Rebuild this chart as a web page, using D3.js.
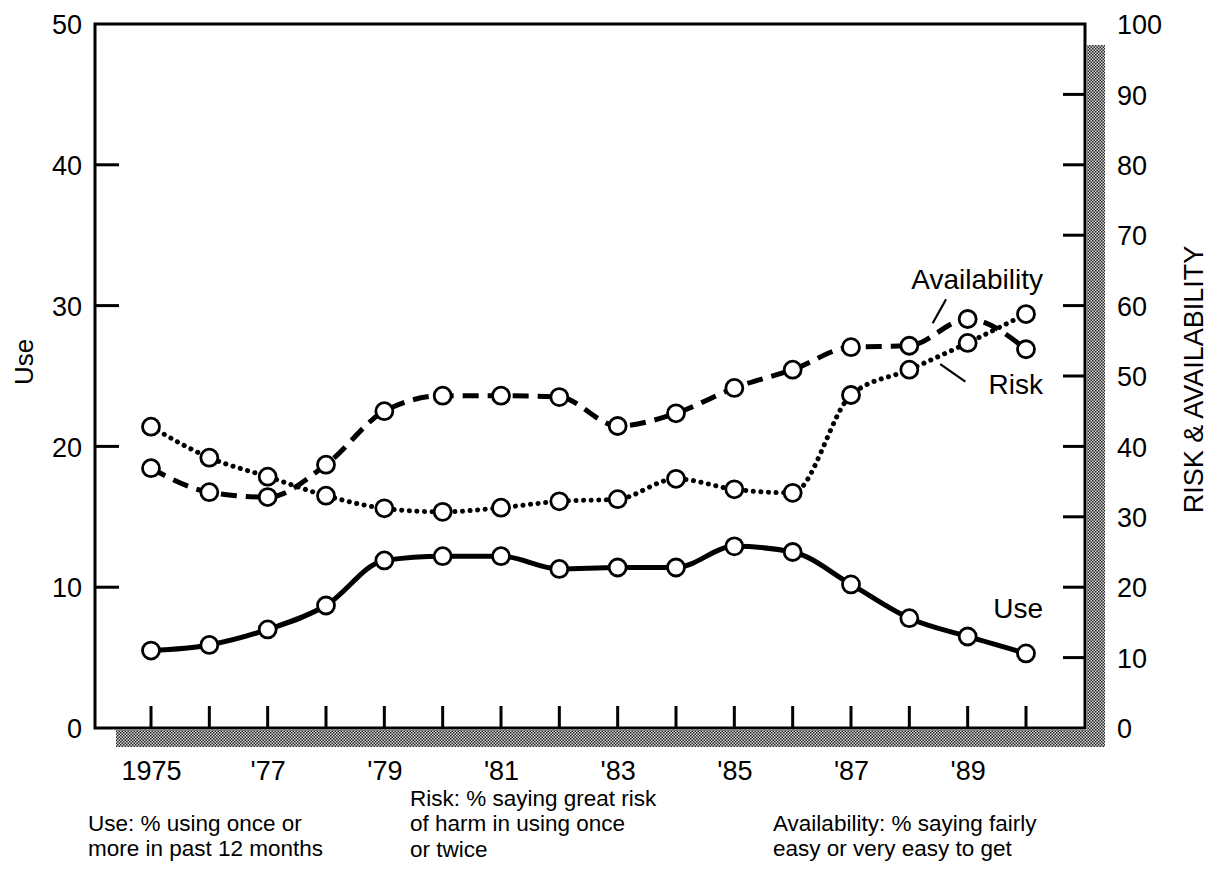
<!DOCTYPE html>
<html>
<head>
<meta charset="utf-8">
<script src="https://cdn.jsdelivr.net/npm/d3@7"></script>
<style>
  html, body { margin: 0; padding: 0; background: #fff; }
  svg { display: block; }
  text { font-family: "Liberation Sans", Arial, Helvetica, sans-serif; fill: #000; }
</style>
</head>
<body>
<svg id="chart" width="1211" height="876"></svg>
<script>
// ---- data ----
const years = [1975,1976,1977,1978,1979,1980,1981,1982,1983,1984,1985,1986,1987,1988,1989,1990];
const useValues = [5.5, 5.9, 7.0, 8.7, 11.9, 12.2, 12.2, 11.3, 11.4, 11.4, 12.9, 12.5, 10.2, 7.8, 6.5, 5.3];
const riskValues = [42.8, 38.4, 35.7, 33.0, 31.2, 30.7, 31.3, 32.2, 32.5, 35.4, 33.9, 33.4, 47.3, 50.9, 54.7, 58.8];
const availabilityValues = [36.9, 33.5, 32.8, 37.4, 45.0, 47.2, 47.2, 47.0, 42.9, 44.7, 48.3, 50.9, 54.1, 54.3, 58.1, 53.8];
const xTickLabels = {1975: "1975", 1977: "'77", 1979: "'79", 1981: "'81", 1983: "'83", 1985: "'85", 1987: "'87", 1989: "'89"};
const leftTicks = [0, 10, 20, 30, 40, 50];
const rightTicks = [0, 10, 20, 30, 40, 50, 60, 70, 80, 90, 100];
const leftTitle = "Use";
const rightTitle = "RISK & AVAILABILITY";
const legendUse = ["Use: % using once or", "more in past 12 months"];
const legendRisk = ["Risk: % saying great risk", "of harm in using once", "or twice"];
const legendAvail = ["Availability: % saying fairly", "easy or very easy to get"];

// ---- layout ----
const svg = d3.select("#chart");
const frame = {left: 95, right: 1085, top: 24, bottom: 728};
const x = d3.scaleLinear().domain([1975, 1990]).range([151, 1026]);
const yL = d3.scaleLinear().domain([0, 50]).range([frame.bottom, frame.top]);
const yR = d3.scaleLinear().domain([0, 100]).range([frame.bottom, frame.top]);
const FONT = "'Liberation Sans', Arial, sans-serif";

// halftone pattern
const defs = svg.append("defs");
const pat = defs.append("pattern").attr("id", "halftone")
  .attr("patternUnits", "userSpaceOnUse").attr("width", 3).attr("height", 3);
pat.append("rect").attr("width", 3).attr("height", 3).attr("fill", "#d8d8d8");
pat.append("rect").attr("x", 0).attr("y", 0).attr("width", 1.5).attr("height", 1.5).attr("fill", "#222");
pat.append("rect").attr("x", 1.5).attr("y", 1.5).attr("width", 1.5).attr("height", 1.5).attr("fill", "#222");

// shaded "shadow" bands
svg.append("rect").attr("x", 116).attr("y", frame.bottom + 2)
  .attr("width", 1105 - 116).attr("height", 17).attr("fill", "url(#halftone)");
svg.append("rect").attr("x", frame.right + 2).attr("y", 45)
  .attr("width", 18).attr("height", frame.bottom + 19 - 45).attr("fill", "url(#halftone)");

// frame
svg.append("rect").attr("x", frame.left).attr("y", frame.top)
  .attr("width", frame.right - frame.left).attr("height", frame.bottom - frame.top)
  .attr("fill", "none").attr("stroke", "#000").attr("stroke-width", 3);

// left axis
const leftAxis = d3.axisLeft(yL).tickValues(leftTicks).tickSize(0).tickPadding(0).tickFormat(d3.format("d"));
const gL = svg.append("g").attr("transform", `translate(${frame.left},0)`).call(leftAxis);
gL.select(".domain").remove();
gL.selectAll("text").attr("x", -13).attr("dy", "0.36em").style("font-size", "27px")
  .style("font-family", FONT).attr("fill", "#000");
svg.append("g").selectAll("line").data(leftTicks.filter(d => d > 0 && d < 50)).join("line")
  .attr("x1", frame.left).attr("x2", frame.left + 24)
  .attr("y1", d => yL(d)).attr("y2", d => yL(d))
  .attr("stroke", "#000").attr("stroke-width", 3);

// right axis
const rightAxis = d3.axisRight(yR).tickValues(rightTicks).tickSize(0).tickPadding(0).tickFormat(d3.format("d"));
const gR = svg.append("g").attr("transform", `translate(${frame.right},0)`).call(rightAxis);
gR.select(".domain").remove();
gR.selectAll("text").attr("x", 32).attr("dy", "0.36em").style("font-size", "27px")
  .style("font-family", FONT).attr("fill", "#000");
svg.append("g").selectAll("line").data(rightTicks.filter(d => d > 0 && d < 100)).join("line")
  .attr("x1", frame.right).attr("x2", frame.right - 22)
  .attr("y1", d => yR(d)).attr("y2", d => yR(d))
  .attr("stroke", "#000").attr("stroke-width", 3);

// bottom axis
const bottomAxis = d3.axisBottom(x).tickValues(years).tickSize(0).tickPadding(0)
  .tickFormat(d => xTickLabels[d] || "");
const gB = svg.append("g").attr("transform", `translate(0,${frame.bottom})`).call(bottomAxis);
gB.select(".domain").remove();
gB.selectAll("text").attr("y", 52).attr("dy", 0).style("font-size", "27px")
  .style("font-family", FONT).attr("fill", "#000");
svg.append("g").selectAll("line").data(years).join("line")
  .attr("x1", d => x(d)).attr("x2", d => x(d))
  .attr("y1", frame.bottom).attr("y2", frame.bottom - 22)
  .attr("stroke", "#000").attr("stroke-width", 3);

// axis titles
svg.append("text").attr("transform", `translate(33,${yL(26)}) rotate(-90)`)
  .attr("text-anchor", "middle").style("font-size", "26px").text(leftTitle);
svg.append("text").attr("transform", `translate(1203,${yR(49.5)}) rotate(-90)`)
  .attr("text-anchor", "middle").style("font-size", "27px").text(rightTitle);

// lines
const curve = d3.curveMonotoneX;
const lineUse = d3.line().x((d, i) => x(years[i])).y(d => yL(d)).curve(curve);
const lineR = d3.line().x((d, i) => x(years[i])).y(d => yR(d)).curve(curve);

svg.append("path").attr("d", lineR(availabilityValues)).attr("fill", "none")
  .attr("stroke", "#000").attr("stroke-width", 5).attr("stroke-dasharray", "16 9");
svg.append("path").attr("d", lineR(riskValues)).attr("fill", "none")
  .attr("stroke", "#000").attr("stroke-width", 5).attr("stroke-linecap", "round")
  .attr("stroke-dasharray", "0.1 7.5");
svg.append("path").attr("d", lineUse(useValues)).attr("fill", "none")
  .attr("stroke", "#000").attr("stroke-width", 5);

// markers
const markerGroups = [
  {vals: availabilityValues, y: yR},
  {vals: riskValues, y: yR},
  {vals: useValues, y: yL}
];
markerGroups.forEach(g => {
  svg.append("g").selectAll("circle").data(g.vals).join("circle")
    .attr("cx", (d, i) => x(years[i])).attr("cy", d => g.y(d))
    .attr("r", 8.5).attr("fill", "#fff").attr("stroke", "#000").attr("stroke-width", 2.8);
});

// series labels with leaders (anchored in data space)
svg.append("text").attr("x", x(1990) + 17).attr("y", yR(62.4)).attr("text-anchor", "end")
  .style("font-size", "28px").text("Availability");
svg.append("line").attr("x1", x(1988.63)).attr("y1", yR(60.9)).attr("x2", x(1988.4)).attr("y2", yR(57.5))
  .attr("stroke", "#000").attr("stroke-width", 2.2);
svg.append("text").attr("x", x(1990) + 17).attr("y", yR(47.5)).attr("text-anchor", "end")
  .style("font-size", "28px").text("Risk");
svg.append("line").attr("x1", x(1988.53)).attr("y1", yR(51.7)).attr("x2", x(1988.96)).attr("y2", yR(49.2))
  .attr("stroke", "#000").attr("stroke-width", 2.2);
svg.append("text").attr("x", x(1990) + 17).attr("y", yL(7.8)).attr("text-anchor", "end")
  .style("font-size", "28px").text("Use");

// legend notes
function note(lines, x0, y0) {
  const t = svg.append("text").attr("x", x0).attr("y", y0).style("font-size", "22.5px");
  lines.forEach((s, i) => t.append("tspan").attr("x", x0).attr("dy", i === 0 ? 0 : 25.3).text(s));
}
note(legendUse, 88, 831);
note(legendRisk, 410, 806);
note(legendAvail, 773, 831);
</script>
</body>
</html>
